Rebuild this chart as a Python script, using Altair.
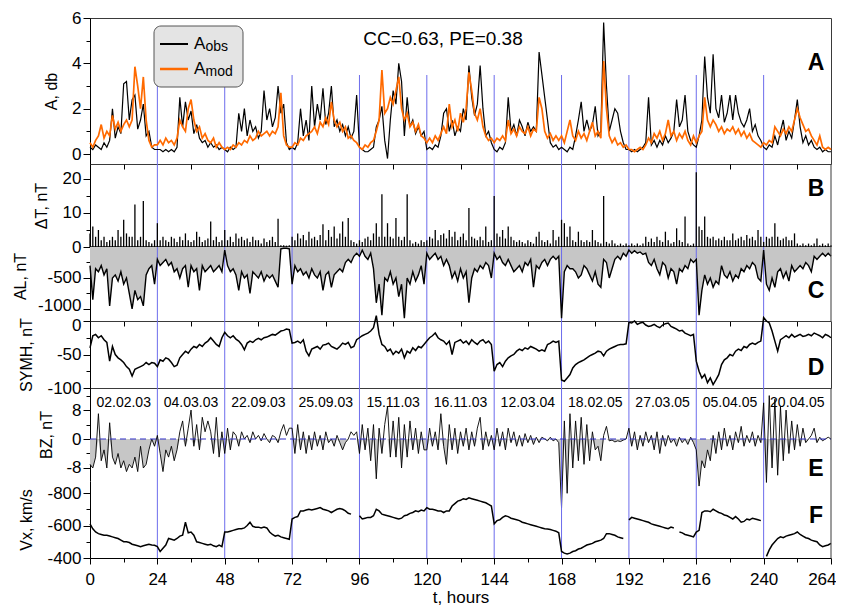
import altair as alt
import pandas as pd
import numpy as np

# ---------------- data (hourly samples, t = 0..264 h) ----------------
a_obs = [0.3,0.2,0.4,0.3,0.2,0.5,0.3,0.6,2.0,0.7,1.2,0.9,3.1,3.2,1.5,2.4,2.6,1.1,1.5,2.2,0.8,1.0,0.3,0.2,
         0.2,0.2,0.1,0.2,0.1,0.2,0.1,0.3,2.5,1.2,2.3,1.5,1.9,0.9,1.3,0.7,0.5,0.6,0.3,0.5,0.3,0.4,0.2,0.3,
         0.2,0.1,0.3,0.2,0.3,1.8,1.0,2.0,0.8,1.5,1.0,1.2,0.7,1.0,2.8,1.5,2.0,1.2,1.6,3.0,1.8,2.2,0.5,0.2,
         0.3,0.2,0.5,2.0,0.8,1.5,0.6,3.0,1.2,2.2,1.5,2.9,1.3,1.8,3.0,1.2,1.5,1.0,1.3,0.8,1.2,0.7,1.0,2.6,
         0.3,0.2,0.1,0.1,0.2,0.3,1.2,1.5,2.1,0.6,-0.2,1.5,2.8,2.2,4.0,3.2,0.8,2.5,1.2,1.5,0.9,1.2,0.8,1.0,
         0.2,0.3,0.2,0.4,0.3,0.8,1.8,2.0,1.0,1.5,0.8,1.2,1.0,2.0,1.5,3.9,2.5,1.7,2.2,3.9,2.0,0.8,1.0,0.5,
         0.2,0.1,0.3,0.2,0.5,2.5,1.0,1.3,0.8,1.5,1.2,0.8,1.4,1.0,1.2,1.0,4.5,3.5,2.5,1.5,0.5,0.3,0.4,0.2,
         0.3,0.2,0.1,0.3,0.2,0.8,1.5,2.3,1.0,1.5,1.0,1.3,2.1,0.8,1.0,5.8,3.0,1.0,1.5,2.0,1.8,1.0,0.5,0.2,
         0.2,0.1,0.2,0.1,0.2,0.3,0.5,2.5,0.4,0.6,0.3,0.6,0.4,0.8,0.5,0.7,1.0,2.4,1.2,1.5,2.6,1.0,0.6,0.4,
         0.3,0.8,1.5,4.3,2.5,1.8,4.4,2.0,1.6,2.6,1.4,1.8,2.6,1.5,2.6,1.8,1.4,1.2,1.5,2.0,1.0,1.3,0.8,0.6,
         0.3,0.2,0.4,0.3,0.8,0.4,1.0,1.5,0.6,1.0,0.7,1.5,2.4,1.2,0.5,0.8,0.4,0.6,0.3,0.2,0.3,0.1,0.2,0.1,0.1]

a_mod = [0.5,0.3,0.6,0.8,1.3,0.7,1.0,0.8,1.7,1.1,1.4,1.0,1.3,1.5,1.2,1.5,3.85,3.0,2.0,3.4,1.5,0.6,0.3,0.4,
         0.4,0.6,0.4,0.7,0.5,0.6,0.4,0.7,1.5,1.2,1.0,2.0,2.4,1.5,1.0,1.2,0.7,0.9,0.6,0.5,0.7,0.3,0.5,0.3,
         0.2,0.3,0.2,0.4,0.3,0.5,0.4,0.6,0.5,0.8,0.6,0.7,1.0,0.8,0.9,1.0,0.8,1.0,0.9,1.2,2.7,0.8,0.4,0.3,
         0.3,0.5,0.4,0.7,0.6,0.8,0.9,1.0,1.2,0.9,1.4,1.2,1.6,1.3,2.3,1.5,1.2,1.4,1.0,1.2,0.7,0.8,0.6,0.5,
         0.3,0.2,0.4,0.3,0.5,0.6,1.0,1.5,3.7,1.8,2.0,2.5,2.2,2.8,3.4,2.0,1.5,1.8,1.2,1.4,1.0,1.3,0.8,0.7,
         0.5,0.7,0.5,0.8,0.6,0.9,1.2,0.9,2.2,1.2,1.5,1.0,1.8,1.4,2.0,3.6,2.8,1.8,1.5,2.0,1.2,0.8,0.6,0.7,
         0.5,0.7,0.6,0.8,0.6,1.5,0.9,1.1,0.8,1.2,1.0,0.9,1.2,0.8,1.1,1.0,2.5,2.0,1.0,0.7,0.9,0.6,0.8,0.6,
         0.8,0.5,1.0,1.5,0.8,0.6,1.0,0.7,0.9,0.6,1.0,1.4,0.8,1.0,0.7,4.1,2.0,0.8,0.5,0.7,0.4,0.5,0.3,0.4,
         0.2,0.2,0.1,0.2,0.3,0.2,0.4,0.7,0.5,0.9,0.7,1.0,0.6,0.9,1.5,0.8,1.0,0.6,0.9,0.7,1.0,0.6,0.4,0.8,
         0.5,0.8,1.0,2.5,1.5,1.2,1.5,1.3,1.0,1.2,0.9,1.1,1.0,1.2,0.9,1.1,0.8,1.0,0.7,0.9,0.6,0.5,0.4,0.3,
         0.5,0.4,0.6,0.5,1.2,1.0,0.8,1.1,0.9,1.2,1.0,1.5,2.0,1.6,1.3,1.0,1.1,0.8,0.6,0.4,0.8,0.3,0.2,0.3,0.2]

d_t = [4,6,3,5,2,3,1.5,2,3,2,5,3,8,4,3,3,12.5,2,3,13.5,2,1.5,1,2,
       7,2,3,2,1.5,3,2.5,1.5,3,2,4,2,1.5,2,4.5,3,1.5,2,2.5,7.5,2,3,1.5,2,
       5,2,3,1.5,4,2.5,3,2,2.5,1.5,3,2,2,1,2.5,1.5,2,3,1.5,8.3,0.5,0.5,0.4,0.5,
       3,2,4,2.5,3.5,2,4.5,2.5,3,2,3.5,6.7,2,5,3,6,2.5,4,7.5,3,8.5,2,1.5,1,
       2,1.5,2.5,3,2,4,7,3,15.5,3,7,3,2.5,8.5,3,2,3,15.5,2,1,1.5,1,2,1.5,
       2,3,2.5,5,2,3.5,4,2.5,5,3,4.5,2,3,4,2,11.5,3,2.5,2,3,2,6,1.5,2,
       15,4,3,5,2.5,6,3,2,1.5,2,1.5,1,2,1.5,1,3,4.5,2,1.5,2,1,5,2,3,
       8,7,3,6,2,1.5,4.5,2,1.5,2,1.5,5,2,1.5,1,15,1.5,1,2,1,0.5,1,0.5,1,
       0.5,1,0.5,1,0.5,1,3,1.5,2.5,1.5,3,2,1.5,4.5,2,1,1.5,5.5,2,1.5,9,1,0.5,1,
       22,6,5,9,3,2.5,3,2,2.5,2,3,2,2,4,2,2.5,3,2,3.5,2.5,3,2,5,3,
       1.5,3,2.5,3,7,3,2,2.5,3,2,2,4,1,0.5,1,0.5,1,0.5,1,2.5,0.5,1,0.5,1,0.5]

al = [-300,-850,-350,-400,-300,-450,-350,-950,-500,-450,-550,-400,-600,-500,-750,-1000,-700,-850,-800,-950,-450,-350,-300,-600,
      -200,-300,-250,-200,-300,-250,-400,-350,-500,-350,-300,-650,-300,-400,-350,-700,-300,-400,-350,-300,-400,-350,-300,-400,
      -50,-300,-400,-350,-450,-700,-400,-500,-450,-750,-400,-450,-500,-400,-550,-450,-500,-450,-550,-650,-30,-20,-20,-30,
      -600,-300,-400,-350,-450,-400,-500,-350,-450,-500,-400,-700,-450,-400,-650,-450,-400,-350,-400,-250,-200,-250,-150,-100,
      -150,-50,-150,-200,-100,-350,-900,-600,-1100,-500,-550,-400,-600,-500,-800,-600,-1150,-500,-600,-400,-550,-450,-300,-600,
      -100,-200,-150,-100,-200,-150,-300,-200,-300,-500,-400,-550,-350,-500,-400,-900,-500,-350,-400,-300,-350,-250,-300,-500,
      -100,-200,-150,-250,-300,-200,-300,-400,-350,-300,-400,-250,-300,-200,-650,-300,-350,-250,-200,-300,-200,-150,-200,-150,
      -1150,-400,-300,-350,-350,-400,-500,-450,-300,-350,-450,-550,-400,-600,-650,-200,-250,-500,-350,-200,-150,-200,-100,-150,
      -50,-100,-60,-100,-80,-120,-100,-250,-300,-200,-350,-450,-250,-300,-500,-350,-400,-600,-350,-400,-300,-350,-200,-250,
      -200,-1100,-700,-450,-600,-500,-650,-550,-600,-300,-450,-500,-400,-550,-450,-500,-350,-400,-300,-350,-250,-300,-500,-550,
      -50,-600,-700,-500,-650,-400,-350,-500,-400,-550,-300,-400,-350,-300,-350,-250,-300,-400,-150,-200,-150,-100,-150,-100,-150]

symh = [-40,-22,-20,-25,-22,-28,-32,-60,-38,-50,-55,-58,-62,-68,-72,-82,-72,-70,-68,-66,-62,-65,-62,-63,
        -68,-58,-60,-55,-57,-62,-68,-66,-55,-50,-45,-48,-42,-38,-40,-35,-38,-33,-30,-25,-30,-35,-38,-25,
        -17,-22,-25,-22,-27,-30,-35,-43,-33,-30,-32,-28,-26,-28,-25,-24,-22,-20,-21,-18,-15,-14,-12,-13,
        -33,-32,-30,-33,-28,-45,-52,-42,-40,-38,-42,-36,-35,-33,-38,-40,-42,-38,-33,-35,-32,-40,-38,-28,
        -25,-22,-20,-18,-15,-10,8,-20,-35,-38,-45,-42,-50,-45,-48,-42,-55,-45,-48,-40,-44,-38,-40,-35,
        -30,-25,-22,-18,-25,-28,-30,-35,-30,-50,-32,-30,-28,-33,-30,-35,-28,-32,-35,-30,-28,-33,-30,-35,
        -75,-65,-62,-68,-60,-55,-52,-50,-45,-42,-44,-40,-42,-38,-40,-42,-45,-43,-45,-35,-33,-30,-32,-30,
        -88,-90,-85,-80,-70,-65,-62,-60,-58,-55,-52,-50,-48,-45,-46,-52,-45,-42,-40,-38,-36,-35,-35,-34,
        -2,-3,0,-5,-3,-2,-6,-8,-7,-5,-8,-10,-6,-4,-3,-8,-10,-12,-15,-14,-18,-20,-22,-20,
        -60,-75,-85,-80,-92,-85,-95,-88,-80,-65,-58,-55,-50,-52,-45,-42,-44,-38,-40,-35,-33,-35,-32,-30,
        5,0,-3,-15,-30,-45,-28,-25,-22,-25,-20,-24,-22,-20,-23,-22,-20,-22,-18,-20,-22,-25,-20,-22,-25]

bz = [-7,-8,-5,7,-6,-3,-8,4.5,-5,-7,-4,-8,-6,-9,-7,-8,-5,-9,-2,-8,-7,-3,0,-2,
      1,-4,-9,-3,-5,-2,-6,-3,2,5,-2,3,8,-2,4,-3,6,2,5,2,-4,6,-5,2,
      -4,3,-3,2,1,-2,2,0,1,-1,2,0,1,-0.5,1.5,0,-1,1,0.5,-1,2,4,1,3,
      3,-4,4,-3,2,-4,1,-3,2,-2,1,-3,2,-1,0,-2,1,-1,-3,-1,0,2,1,2,
      -4,4,-3,3,-6,4,-11,3,-4,4,9,-5,5,-5,6,-8,4,-5,5,-3,3,-4,2,-3,
      -3,3,-2,2,-3,7,-2,-7,4,-3,3,-4,2,-2,3,-3,2,-2,3,6,-3,2,-2,1,
      -3,3,-2,2,-3,3,-1,2,-2,1,-2,1.5,-1,1,-1.5,0.5,-1,0.5,0,-0.5,0.5,-0.5,0,-1,
      -19,5,-15,7,-8,5,-6,6,-7,4,-6,2,-3,-2,-6,1,3.5,-0.5,-0.3,-0.8,-0.5,-0.7,-0.3,0,
      3,-2,2,-3,1,-2,2,-1,1,-3,2,-4,1,-2,1,-1,0,-2,0.5,-1,0,-1.5,0.5,-1,
      -3,-13,-6,-8,-3,-6,1,-4,2,-3,3,-2,1,-3,2,-1,3.5,-2,1,-1,2,-2,1,-1,
      10,-12,12,-8,11,-10,9,-6,8,-4,5,-3,4,-2,3,-1,0,1,3,-1,0.5,-0.5,0,0.5,0]

vx = [-610,-580,-560,-550,-545,-540,-540,-535,-530,-525,-520,-510,-500,-500,-495,-485,-480,-475,-470,-475,-480,-485,-480,-478,
      -470,-440,-460,-480,-520,-515,-510,-520,-535,-540,-620,-555,-560,-540,-500,-495,-490,-485,-480,-485,-475,-470,-480,-470,
      -560,-560,-565,-570,-575,-580,-580,-585,-600,-620,-595,-590,-590,-585,-590,-585,-560,-545,-535,-540,-530,-525,-520,-515,
      -640,-650,-655,-690,-690,-695,-700,-695,-700,-705,-710,-700,-695,-690,-680,-690,-700,-705,-700,-690,-675,-670,None,None,
      -660,-640,-645,-650,-650,-660,-700,-690,-670,-665,-660,-655,-650,-645,-640,-645,-660,-665,-675,-680,-690,-685,-695,-690,
      -710,-700,-700,-695,-690,-690,-680,-690,-690,-720,-735,-750,-755,-765,-760,-770,-765,-760,-755,-750,-745,-740,-730,-720,
      -610,-630,-635,-650,-660,-655,-645,-640,-635,-630,-620,-615,-610,-605,-600,-595,-590,-585,-580,-578,-575,-570,-565,-555,
      -440,-430,-425,-430,-440,-445,-455,-460,-470,-480,-485,-490,-500,-505,-510,-520,-550,-550,-545,-540,-530,-525,-520,None,
      -635,-650,-645,-640,-635,-630,-625,-620,-610,-605,-600,-595,-590,-585,-580,-590,-585,None,-560,-555,-545,-540,-535,-530,
      -560,-570,-680,-690,-690,-685,-700,-690,-680,-675,-665,-660,-650,-640,-655,-640,-620,-625,-640,-635,-645,-640,-635,-630,
      None,-410,-450,-480,-500,-520,-530,-525,-535,-540,-545,-550,-560,-545,-535,-525,-520,-510,-505,-500,-480,-470,-475,-480,-490]

dates = ["02.02.03", "04.03.03", "22.09.03", "25.09.03", "15.11.03", "16.11.03",
         "12.03.04", "18.02.05", "27.03.05", "05.04.05", "20.04.05"]
day_edges = [24, 48, 72, 96, 120, 144, 168, 192, 216, 240]

# ---------------- frames ----------------
def frame(vals):
    return pd.DataFrame({"t": np.arange(len(vals)), "v": vals})

dfA_obs = frame(a_obs)
dfA_mod = frame(a_mod)
dfB = frame(d_t)
dfC = frame(al)
dfD = frame(symh)
dfE = frame(bz)
dfE["neg"] = np.minimum(dfE["v"], 0)
dfF = frame(vx)
dfDates = pd.DataFrame({"t": [12 + 24 * i for i in range(len(dates))], "label": dates})
edges = pd.DataFrame({"t": day_edges})
one = pd.DataFrame({"k": [0]})
zero = pd.DataFrame({"z": [0]})

# ---------------- style ----------------
FONT = "Liberation Sans"
W = 741
HA, HB, HC, HD, HE, HF = 146, 83, 74, 67, 93, 77
BLUE = "#6c6cec"
GREY = "#c6c6c6"
ORANGE = "#ff6a00"
BORDER = "#3a3a3a"

BOX = alt.ViewBackground(stroke=BORDER, strokeWidth=1)
NOBOX = alt.ViewBackground(strokeOpacity=0, strokeWidth=0)

xs = alt.Scale(domain=[0, 264], nice=False, zero=False)
minor_x = alt.Axis(values=[12 + 24 * i for i in range(11)], labels=False, domain=False,
                   ticks=True, tickSize=5, tickColor="black", title=None, grid=False)
bottom_x = alt.Axis(values=list(range(0, 265, 12)), format="d",
                    labelExpr="datum.value % 24 == 0 ? datum.label : ''",
                    tickSize={"condition": {"test": "datum.value % 24 == 0", "value": 6}, "value": 4},
                    title="t, hours", labelFontSize=17, titleFontSize=17, labelFont=FONT, titleFont=FONT,
                    titleFontWeight="normal", labelColor="black", titleColor="black",
                    labelPadding=7, titlePadding=2, grid=False, domainColor="black", tickColor="black",
                    labelOverlap=False, labelFlush=True, labelFlushOffset=5)


def X(axis=None):
    return alt.X("t:Q", scale=xs, axis=axis)


def yax(title, ticks, labeled, tx, ty=None, shift=None):
    test = " || ".join(f"datum.value == {v}" for v in labeled)
    kw = dict(title=title, values=ticks, format="d",
              labelExpr=f"({test}) ? replace(datum.label, '\u2212', '-') : ''",
              tickSize={"condition": {"test": test, "value": 7}, "value": 4},
              titleX=tx, grid=False, domain=True, domainColor="black", tickColor="black",
              labelColor="black", titleColor="black", labelFontSize=17, titleFontSize=16,
              labelFont=FONT, titleFont=FONT, titleFontWeight="normal", labelPadding=2,
              labelOverlap=False)
    if ty is not None:
        kw["titleY"] = ty
    if shift is not None:
        v, off = shift
        kw["labelOffset"] = {"condition": {"test": f"datum.value == {v}", "value": off}, "value": 0}
    return alt.Axis(**kw)


def blue_rules(top, bot, axis=None):
    return alt.Chart(edges).mark_rule(color=BLUE, strokeWidth=1).encode(
        x=X(axis), y=alt.value(top), y2=alt.value(bot))


def letter(s, y):
    return alt.Chart(one).mark_text(text=s, font=FONT, fontSize=23, fontWeight="bold",
                                    color="black", align="center", baseline="middle").encode(
        x=alt.value(726), y=alt.value(y))


def right_border(h):
    return alt.Chart(one).mark_rule(color=BORDER, strokeWidth=1).encode(
        x=alt.value(W), y=alt.value(0), y2=alt.value(h))


def txt(s, x, y, size, align="left", baseline="alphabetic"):
    return alt.Chart(one).mark_text(text=s, font=FONT, fontSize=size, color="black",
                                    align=align, baseline=baseline).encode(
        x=alt.value(x), y=alt.value(y))


# ---------------- panel A ----------------
scA = alt.Scale(domain=[-0.44, 6], nice=False, zero=False)
axA = yax("A, db", [0, 1, 2, 3, 4, 5, 6], [0, 2, 4, 6], -31)
legend_box = alt.Chart(one).mark_rect(fill="#e4e4e4", stroke="#555555", strokeWidth=1,
                                      cornerRadius=7).encode(
    x=alt.value(64), x2=alt.value(153), y=alt.value(8), y2=alt.value(69))
leg_obs = alt.Chart(one).mark_rule(color="black", strokeWidth=2).encode(
    x=alt.value(70), x2=alt.value(98), y=alt.value(26))
leg_mod = alt.Chart(one).mark_rule(color=ORANGE, strokeWidth=2.5).encode(
    x=alt.value(70), x2=alt.value(98), y=alt.value(51))

pA = alt.layer(
    blue_rules(57, HA, minor_x),
    alt.Chart(dfA_obs).mark_line(color="black", strokeWidth=1.2).encode(
        x=X(minor_x), y=alt.Y("v:Q", scale=scA, axis=axA)),
    alt.Chart(dfA_mod).mark_line(color=ORANGE, strokeWidth=1.7).encode(
        x=X(minor_x), y=alt.Y("v:Q", scale=scA, axis=axA)),
    legend_box, leg_obs, leg_mod,
    txt("A", 104, 31, 17), txt("obs", 115.5, 33, 14),
    txt("A", 104, 56, 17), txt("mod", 115.5, 58, 14),
    txt("CC=0.63, PE=0.38", 353, 21, 19, align="center", baseline="middle"),
    letter("A", 45),
).properties(width=W, height=HA, view=BOX)

# ---------------- panel B ----------------
scB = alt.Scale(domain=[0, 24.4], nice=False, zero=False)
axB = yax("\u0394T, nT", [0, 5, 10, 15, 20], [0, 10, 20], -41)
pB = alt.layer(
    blue_rules(0, HB),
    alt.Chart(zero).mark_rule(color="black", strokeWidth=1.5).encode(
        x=alt.value(0), x2=alt.value(W), y=alt.Y("z:Q", scale=scB, axis=axB)),
    alt.Chart(dfB).mark_rule(color="black", strokeWidth=1.3).encode(
        x=X(), y=alt.Y("v:Q", scale=scB, axis=axB), y2=alt.datum(0)),
    right_border(HB),
    letter("B", 25),
).properties(width=W, height=HB, view=NOBOX)

# ---------------- panel C ----------------
scC = alt.Scale(domain=[-1194, 0], nice=False, zero=False)
axC = yax("AL, nT", [0, -250, -500, -750, -1000], [-500, -1000], -62, 29, (-1000, -3))
pC = alt.layer(
    alt.Chart(dfC).mark_area(color=GREY).encode(
        x=X(minor_x), y=alt.Y("v:Q", scale=scC, axis=axC), y2=alt.datum(0)),
    blue_rules(0, HC, minor_x),
    alt.Chart(dfC).mark_line(color="black", strokeWidth=1.4).encode(
        x=X(minor_x), y=alt.Y("v:Q", scale=scC, axis=axC)),
    right_border(HC),
    letter("C", 44),
).properties(width=W, height=HC, view=NOBOX)

# ---------------- panel D ----------------
scD = alt.Scale(domain=[-100, 0], nice=False, zero=False)
axD = yax("SYMH, nT", [0, -25, -50, -75, -100], [0, -50, -100], -56, None, (0, 4))
pD = alt.layer(
    blue_rules(0, HD),
    alt.Chart(dfD).mark_line(color="black", strokeWidth=1.5).encode(
        x=X(), y=alt.Y("v:Q", scale=scD, axis=axD)),
    letter("D", 47),
).properties(width=W, height=HD, view=BOX)

# ---------------- panel E ----------------
scE = alt.Scale(domain=[-11.6, 14.1], nice=False, zero=False)
axE = yax("BZ, nT", [12, 8, 4, 0, -4, -8], [8, 0, -8], -36)
pE = alt.layer(
    alt.Chart(dfE).mark_area(color=GREY).encode(
        x=X(), y=alt.Y("neg:Q", scale=scE, axis=axE), y2=alt.datum(0)),
    blue_rules(0, HE),
    alt.Chart(dfE).mark_line(color="black", strokeWidth=0.9).encode(
        x=X(), y=alt.Y("v:Q", scale=scE, axis=axE)),
    alt.Chart(zero).mark_rule(color="#2f2fc8", strokeWidth=1.2, strokeDash=[6, 4]).encode(
        x=alt.value(0), x2=alt.value(W), y=alt.Y("z:Q", scale=scE, axis=axE)),
    alt.Chart(dfDates).mark_text(font=FONT, fontSize=14, color="black", baseline="middle").encode(
        x=X(), y=alt.value(15), text="label:N"),
    right_border(HE),
    letter("E", 81),
).properties(width=W, height=HE, view=NOBOX)

# ---------------- panel F ----------------
scF = alt.Scale(domain=[-874, -400], nice=False, zero=False, reverse=True)
axF = yax("Vx, km/s", [-800, -700, -600, -500, -400], [-800, -600, -400], -56)
pF = alt.layer(
    blue_rules(0, HF, bottom_x),
    alt.Chart(dfF).mark_line(color="black", strokeWidth=1.5).encode(
        x=X(bottom_x), y=alt.Y("v:Q", scale=scF, axis=axF)),
    right_border(HF),
    letter("F", 35),
).properties(width=W, height=HF, view=NOBOX)

chart = alt.vconcat(pA, pB, pC, pD, pE, pF, spacing=0, bounds="flush").properties(
    padding={"left": 4, "top": 0, "right": 0, "bottom": 0}
).configure(background="white")

chart.save("out.html", embed_options={"renderer": "svg", "actions": False})
